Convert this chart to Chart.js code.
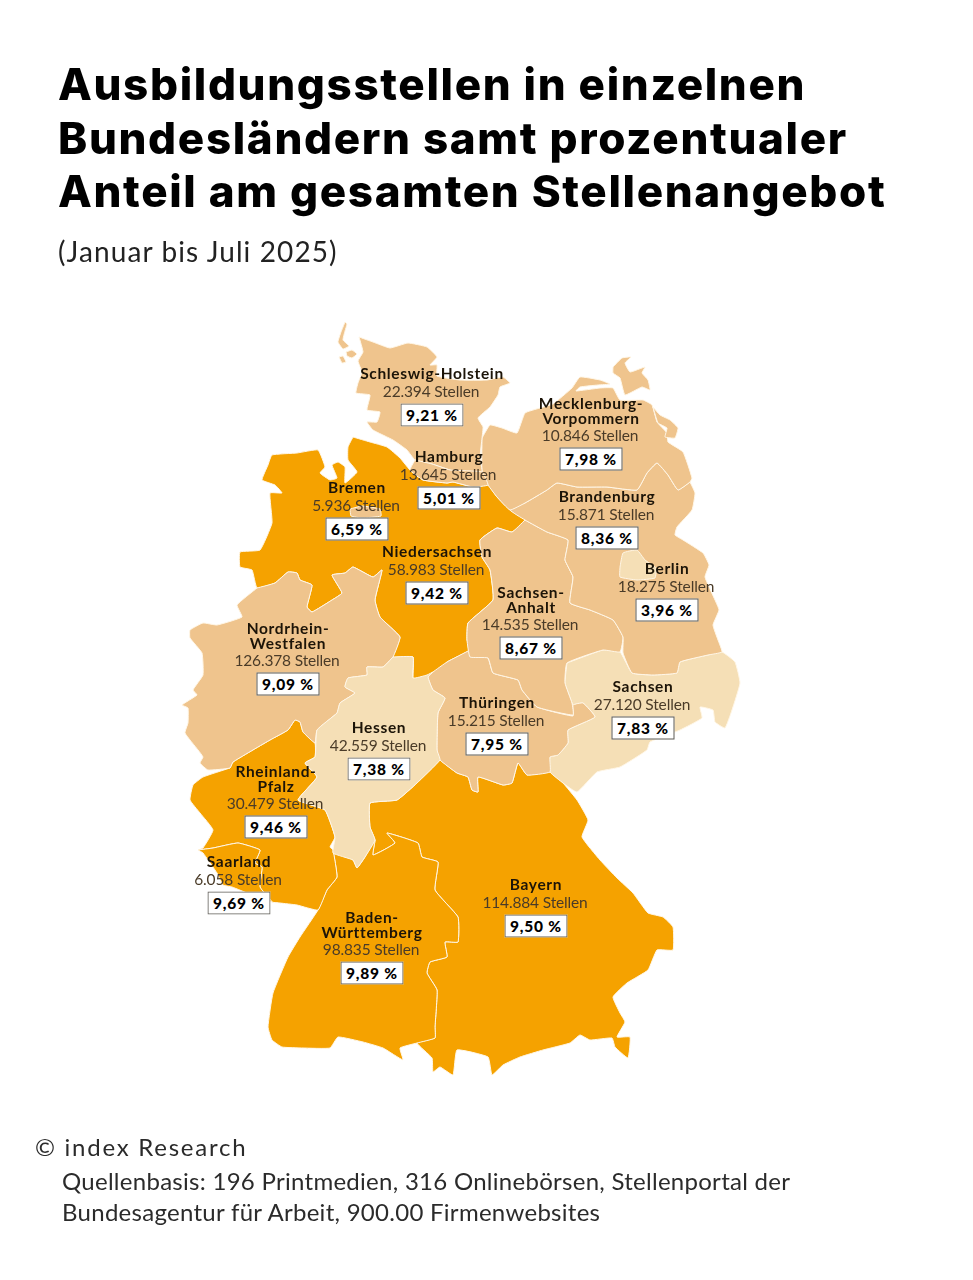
<!DOCTYPE html>
<html lang="de"><head><meta charset="utf-8">
<script src="https://cdn.jsdelivr.net/npm/chart.js@4"></script>
<style>
html,body{margin:0;padding:0;background:#fff;}
#page{position:relative;width:973px;height:1280px;overflow:hidden;font-family:Lato,sans-serif;color:#000;}
#map{position:absolute;left:0;top:0;width:973px;height:1280px;display:block;}
.t{position:absolute;white-space:nowrap;}
#title{left:58px;top:58px;font-family:Inter,Lato,sans-serif;font-weight:800;font-size:44px;line-height:53.5px;letter-spacing:1.65px;}
#sub{left:58px;top:233px;font-weight:400;font-size:28px;line-height:36px;letter-spacing:1.1px;color:#222;}
#c1{left:35px;top:1132px;font-size:24px;line-height:30px;letter-spacing:1.75px;color:#2b2b2b;}
#c2{left:62px;top:1166px;font-size:24px;line-height:30.5px;letter-spacing:.28px;color:#2b2b2b;}
.n{font-weight:700;font-size:15.5px;line-height:14.5px;letter-spacing:.65px;color:#1c1408;text-align:center;transform:translateX(-50%);}
.s{font-weight:400;font-size:15.5px;line-height:18px;letter-spacing:-.15px;color:#4a3b28;transform:translateX(-50%);}
.b{width:61px;height:21px;line-height:21px;background:#fff;border:1.5px solid #5d5a55;font-weight:900;font-size:15.5px;letter-spacing:.8px;text-align:center;color:#000;transform:translate(-50%,-50%);}
</style></head><body>
<div id="page">
<canvas id="map" width="973" height="1280"></canvas>
<div class="t" id="title">Ausbildungsstellen in einzelnen<br>Bundesländern samt prozentualer<br>Anteil am gesamten Stellenangebot</div>
<div class="t" id="sub">(Januar bis Juli 2025)</div>
<div class="t" id="c1">© index Research</div>
<div class="t" id="c2">Quellenbasis: 196 Printmedien, 316 Onlinebörsen, Stellenportal der<br>Bundesagentur für Arbeit, 900.00 Firmenwebsites</div>
</div>
<script>
const labelNames=[["Schleswig-Holstein"],["Mecklenburg-","Vorpommern"],["Hamburg"],["Bremen"],["Brandenburg"],["Niedersachsen"],["Berlin"],["Sachsen-","Anhalt"],["Nordrhein-","Westfalen"],["Sachsen"],["Thüringen"],["Hessen"],["Rheinland-","Pfalz"],["Saarland"],["Bayern"],["Baden-","Württemberg"]];
const stellen=[22394,10846,13645,5936,15871,58983,18275,14535,126378,27120,15215,42559,30479,6058,114884,98835];
const anteil=[9.21,7.98,5.01,6.59,8.36,9.42,3.96,8.67,9.09,7.83,7.95,7.38,9.46,9.69,9.50,9.89];
const labelX=[432,591,449,357,607,437,667,531,288,643,497,379,276,239,536,372];
const labelY=[415,459,498,529,538,593,610,648,684,728,744,769,827,903,926,973];

const DARK="#F5A200",MID="#EFC48D",LIGHT="#F5DFB6";

const sylt=[[345,322],[341,332],[338,342],[343,349],[349,346],[343,340],[345,331],[347,324]];
const foehr=[[346,352],[352,350],[357,354],[352,358],[347,356]];
const amrum=[[339,357],[343,356],[346,362],[342,363]];
const schleswig=[[359,337],[373,342],[390,348],[408,343],[427,347],[437,357],[430,365],[437,365],[437,376],[460,380],[487,380],[503,377],[510,383],[500,387],[498,395],[490,407],[478,418],[483,427],[482,438],[480,458],[482,472],[470,478],[450,470],[432,464],[415,460],[407,450],[393,440],[373,430],[367,422],[377,422],[380,412],[367,410],[370,395],[356,393],[358,383],[362,372],[358,361],[363,352]];
const hamburg=[[415,460],[432,464],[450,470],[482,472],[488,485],[473,487],[453,482],[447,483],[423,480],[410,470]];
const meckPom=[[482,438],[490,425],[502,428],[517,433],[525,413],[540,408],[553,404],[572,388],[580,377],[600,380],[610,384],[598,385],[580,387],[576,391],[600,388],[613,388],[620,400],[643,400],[652,405],[657,422],[667,433],[668,442],[683,452],[692,478],[690,482],[678,490],[668,475],[657,463],[647,473],[637,490],[607,487],[577,487],[557,483],[547,490],[525,503],[510,510],[497,497],[488,485],[482,472]];
const ruegen=[[613,367],[622,358],[631,357],[625,363],[630,372],[645,367],[642,373],[648,380],[650,390],[642,387],[625,395],[620,378],[613,373]];
const usedom=[[653,407],[660,415],[670,420],[678,428],[675,438],[665,437],[667,428],[658,423]];
const brandenburg=[[690,482],[695,493],[692,510],[677,527],[675,535],[683,540],[703,553],[709,565],[705,577],[715,600],[719,610],[713,625],[718,640],[722,652],[708,655],[680,662],[677,673],[653,675],[632,673],[623,653],[623,637],[613,620],[590,610],[570,603],[573,577],[565,560],[568,540],[547,532],[525,520],[510,510],[525,503],[547,490],[557,483],[577,487],[607,487],[637,490],[647,473],[657,463],[668,475],[678,490]];
const berlin=[[620,567],[623,553],[637,550],[645,560],[656,568],[655,578],[637,580],[620,577]];
const niedersachsen=[[353,437],[370,442],[387,447],[400,458],[410,470],[423,480],[447,483],[453,482],[473,487],[488,485],[497,497],[510,510],[525,520],[512,532],[497,528],[480,540],[482,557],[490,570],[493,600],[468,623],[467,640],[470,650],[447,662],[433,677],[417,687],[413,678],[413,657],[393,657],[400,637],[380,617],[375,600],[382,570],[373,577],[353,567],[345,573],[332,575],[342,593],[332,600],[312,612],[307,607],[312,585],[300,580],[297,573],[288,572],[275,583],[257,588],[252,570],[240,567],[240,552],[260,550],[272,523],[270,493],[282,493],[275,485],[262,480],[268,465],[272,455],[297,453],[318,450],[325,467],[320,473],[330,480],[337,478],[332,465],[338,462],[345,467],[345,483],[357,472],[348,460],[348,447]];
const bremen=[[350,509],[362,506],[380,509],[381,516],[362,518],[351,516]];
const sachsenAnhalt=[[525,520],[547,532],[568,540],[565,560],[573,577],[570,603],[590,610],[613,620],[623,637],[620,652],[603,650],[567,663],[565,683],[572,703],[573,715],[537,707],[522,690],[518,680],[493,673],[488,658],[470,657],[467,640],[468,623],[493,600],[490,570],[482,557],[480,540],[497,528],[512,532]];
const thueringen=[[470,650],[488,658],[493,673],[518,680],[522,690],[537,707],[573,716],[573,705],[583,703],[595,717],[568,730],[568,743],[558,755],[550,757],[550,772],[527,775],[518,763],[512,783],[503,785],[478,777],[478,792],[472,790],[468,777],[457,773],[440,760],[437,750],[438,713],[445,698],[433,690],[428,677],[433,672],[447,662]];
const sachsen=[[567,663],[603,650],[620,652],[632,673],[653,675],[677,673],[680,662],[708,655],[722,652],[735,662],[740,683],[732,710],[725,728],[715,722],[713,710],[700,707],[702,718],[680,730],[650,742],[647,750],[620,767],[597,772],[577,792],[563,783],[550,772],[550,757],[558,755],[568,743],[568,730],[595,717],[583,703],[573,705],[572,703],[565,683]];
const bayern=[[440,760],[457,773],[468,777],[472,790],[478,792],[478,777],[503,785],[512,783],[518,763],[527,775],[550,772],[563,783],[577,800],[588,820],[582,837],[600,860],[617,878],[633,893],[648,913],[663,917],[673,927],[673,950],[657,950],[648,970],[627,983],[613,997],[620,1013],[625,1022],[617,1037],[630,1037],[628,1058],[615,1047],[612,1038],[590,1040],[580,1035],[570,1043],[543,1050],[520,1057],[503,1065],[492,1075],[488,1057],[457,1050],[453,1075],[440,1067],[433,1072],[432,1058],[417,1043],[435,1038],[435,1027],[437,990],[427,973],[430,962],[447,957],[445,942],[458,942],[458,917],[435,890],[438,862],[422,857],[418,843],[387,833],[395,843],[373,855],[375,840],[370,827],[370,803],[397,800],[417,783]];
const hessen=[[393,657],[413,657],[413,678],[427,675],[433,672],[428,677],[433,690],[445,698],[438,713],[437,750],[440,760],[417,783],[397,800],[370,803],[370,827],[375,840],[365,857],[357,868],[353,860],[333,853],[335,837],[325,810],[298,800],[317,777],[305,763],[315,757],[317,730],[337,713],[340,703],[355,693],[345,687],[348,678],[367,675],[367,667],[383,667]];
const nrw=[[257,588],[275,583],[288,572],[297,573],[300,580],[312,585],[307,607],[312,612],[332,600],[342,593],[332,575],[345,573],[353,567],[373,577],[382,570],[375,600],[380,617],[400,637],[393,657],[383,667],[367,667],[367,675],[348,678],[345,687],[355,693],[340,703],[337,713],[317,730],[315,743],[303,732],[300,722],[295,720],[288,730],[270,740],[233,762],[230,768],[208,770],[200,763],[203,757],[198,750],[185,733],[188,723],[188,708],[182,705],[197,695],[193,690],[203,675],[202,653],[190,638],[190,630],[203,623],[217,625],[242,617],[237,605]];
const rheinlandPfalz=[[230,768],[233,762],[270,740],[288,730],[295,720],[300,722],[303,732],[315,743],[315,757],[305,763],[317,777],[298,800],[325,810],[335,837],[330,847],[333,850],[337,877],[327,890],[318,910],[297,905],[280,903],[272,902],[260,887],[262,867],[255,863],[260,850],[238,843],[213,848],[198,850],[203,848],[213,830],[200,813],[190,800],[193,785],[203,777]];
const saarland=[[198,850],[213,848],[238,843],[260,850],[255,863],[262,867],[260,887],[272,902],[252,895],[232,887],[223,885],[217,873],[203,853]];
const badenWuerttemberg=[[333,850],[353,860],[357,868],[365,857],[375,840],[373,855],[395,843],[387,833],[418,843],[422,857],[438,862],[435,890],[458,917],[458,942],[445,942],[447,957],[430,962],[427,973],[437,990],[435,1027],[435,1038],[417,1043],[400,1048],[403,1060],[383,1048],[363,1042],[338,1037],[330,1048],[303,1048],[282,1047],[272,1040],[268,1027],[273,993],[288,957],[300,937],[318,910],[327,890],[337,877]];

const rings=[
 [bremen,MID],[hamburg,MID],[berlin,LIGHT],[saarland,DARK],[hessen,LIGHT],
 [sylt,MID],[foehr,MID],[amrum,MID],[ruegen,MID],[usedom,MID],
 [schleswig,MID],[meckPom,MID],[brandenburg,MID],[sachsenAnhalt,MID],[thueringen,MID],
 [sachsen,LIGHT],[nrw,MID],[rheinlandPfalz,DARK],[badenWuerttemberg,DARK],[bayern,DARK],[niedersachsen,DARK]
];

const chart=new Chart(document.getElementById('map'),{
 type:'scatter',
 data:{datasets:rings.map(([ring,color])=>({
   data:ring.concat([ring[0]]).map(([x,y])=>({x,y})),
   showLine:true,fill:'shape',tension:0.12,pointRadius:0,pointHoverRadius:0,
   backgroundColor:color,borderColor:'#fff6e6',borderWidth:1,borderJoinStyle:'round'
 }))},
 options:{responsive:false,animation:false,devicePixelRatio:1,
  layout:{padding:0},events:[],
  plugins:{legend:{display:false},tooltip:{enabled:false},title:{display:false}},
  scales:{x:{type:'linear',min:0,max:973,display:false},y:{type:'linear',min:0,max:1280,reverse:true,display:false}}}
});

const page=document.getElementById('page');
function add(cls,x,y,html){const d=document.createElement('div');d.className='t '+cls;d.style.left=x+'px';d.style.top=y+'px';d.innerHTML=html;page.appendChild(d);return d;}
labelNames.forEach((lines,i)=>{
 const x=chart.scales.x.getPixelForValue(labelX[i]),y=chart.scales.y.getPixelForValue(labelY[i]);
 const h=lines.length*14.5;
 add('n',x,y-34-h+(lines.length>1?0:-1),lines.join('<br>'));
 add('s',x-1,y-33,stellen[i].toLocaleString('de-DE')+' Stellen');
 add('b',x,y,anteil[i].toFixed(2).replace('.',',')+' %');
});
</script>
</body></html>
